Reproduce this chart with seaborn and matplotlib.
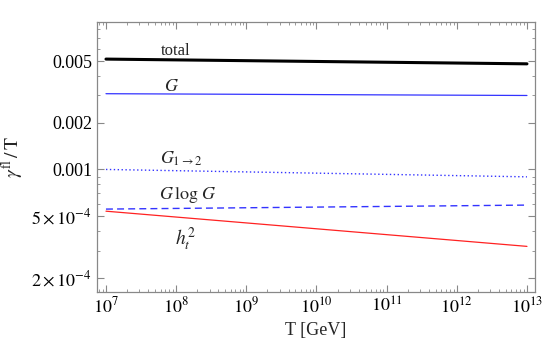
import matplotlib
matplotlib.use("Agg")
import matplotlib.pyplot as plt
import matplotlib.ticker as mticker
import seaborn as sns
import pandas as pd

# temperature range (GeV)
T = [1e7, 1e13]

# gamma^fl / T at the two ends of the range
total = [0.00515, 0.00480]
G = [0.00308, 0.00300]
G12 = [0.00100, 0.000896]
GlogG = [0.000555, 0.000589]
ht2 = [0.000538, 0.000319]

series = ["total", "G", "G12", "GlogG", "ht2"]
values = [total, G, G12, GlogG, ht2]

rows = []
for name, vals in zip(series, values):
    for t, v in zip(T, vals):
        rows.append({"T": t, "gamma": v, "series": name})
df = pd.DataFrame(rows)

sns.set_style("ticks")
plt.rcParams["font.family"] = ["Liberation Serif", "DejaVu Serif"]
plt.rcParams["mathtext.fontset"] = "stix"

fig = plt.figure(figsize=(5.45, 3.47), dpi=100)
ax = fig.add_axes([0.178, 0.1585, 0.804, 0.778])

styles = {
    "total": dict(color="black", lw=2.2, ls="-"),
    "G": dict(color="#3333ff", lw=0.9, ls="-"),
    "G12": dict(color="#3333ff", lw=1.0, ls=(0, (1, 1.8))),
    "GlogG": dict(color="#3333ff", lw=1.0, ls=(0, (5, 3))),
    "ht2": dict(color="#ff2222", lw=0.9, ls="-"),
}
for name in series:
    sub = df[df["series"] == name]
    sns.lineplot(data=sub, x="T", y="gamma", ax=ax, **styles[name])

ax.set_xscale("log")
ax.set_yscale("log")
ax.set_xlim(7.45e6, 1.31e13)
ax.set_ylim(1.62e-4, 8.93e-3)

ax.set_xticks([1e7, 1e8, 1e9, 1e10, 1e11, 1e12, 1e13])
ax.set_xticklabels([r"$10^{%d}$" % e for e in range(7, 14)])
ax.xaxis.set_minor_locator(mticker.LogLocator(base=10, subs=range(2, 10), numticks=20))
ax.xaxis.set_minor_formatter(mticker.NullFormatter())

ax.set_yticks([2e-4, 5e-4, 1e-3, 2e-3, 5e-3])
ax.set_yticklabels([r"$2\times10^{-4}$", r"$5\times10^{-4}$", "0.001", "0.002", "0.005"])
ax.yaxis.set_minor_locator(mticker.LogLocator(base=10, subs=range(1, 10), numticks=20))
ax.yaxis.set_minor_formatter(mticker.NullFormatter())

ax.tick_params(which="both", direction="in", top=True, right=True, colors="#888888",
               labelcolor="black", labelsize=13)
ax.tick_params(which="major", length=5)
ax.tick_params(which="minor", length=2.5)
for s in ax.spines.values():
    s.set_color("#888888")
    s.set_linewidth(0.9)

ax.set_xlabel("T [GeV]", fontsize=13)
ax.set_ylabel(r"$\gamma^{\rm fl}\,/\,{\rm T}$", fontsize=14)

ax.text(1.0e8, 0.0058, "total", fontsize=12, ha="center", va="center")
ax.text(8.7e7, 0.00345, r"$G$", fontsize=13, ha="center", va="center")
ax.text(1.2e8, 0.00118, r"$G_{1\rightarrow2}$", fontsize=13, ha="center", va="center")
ax.text(1.45e8, 0.00068, r"$G\,\log\,G$", fontsize=13, ha="center", va="center")
ax.text(1.35e8, 0.000355, r"$h_t^2$", fontsize=14, ha="center", va="center")

fig.savefig("out.png", dpi=100)
